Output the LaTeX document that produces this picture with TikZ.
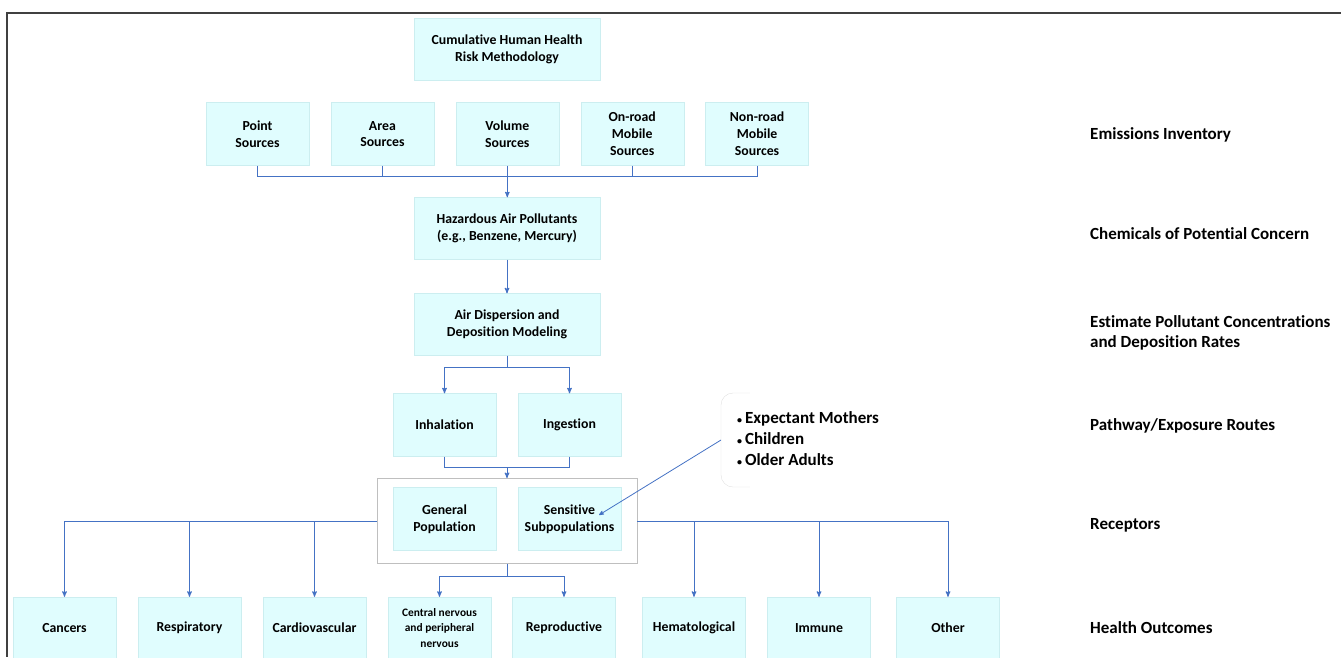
\documentclass[tikz,border=0pt]{standalone}
\usepackage{fontspec}
\setmainfont{Carlito}[Ligatures=NoCommon]
\usepackage{tikz}
\usetikzlibrary{arrows,positioning}
\definecolor{boxfill}{RGB}{224,253,254}
\definecolor{boxline}{RGB}{204,238,240}
\definecolor{linkblue}{RGB}{68,114,196}
\newcommand{\dotitem}{{\fontsize{10}{10}\selectfont\textbullet}\,}
\tikzset{
    %Define standard arrow tip
    >=stealth',
    %Define style for boxes
    stage/.style={
           rectangle,
           fill=boxfill,
           draw=boxline, thin,
           minimum width=103pt,
           minimum height=63pt,
           font=\bfseries\fontsize{13.8}{16.8}\selectfont,
           align=center,
           inner sep=0pt,
           },
    widestage/.style={
           stage,
           minimum width=186pt,
           minimum height=62pt,
           },
    outcome/.style={
           stage,
           minimum height=62pt,
           },
    groupbox/.style={
           rectangle,
           draw=black!25, thick,
           minimum width=260pt,
           minimum height=85pt,
           },
    steplabel/.style={
           anchor=west,
           align=left,
           inner sep=0pt,
           font=\bfseries\fontsize{17}{20}\selectfont,
           },
    sublist/.style={
           anchor=west,
           align=left,
           inner sep=0pt,
           font=\bfseries\fontsize{17}{21}\selectfont,
           },
    % Define arrow style
    pil/.style={
           ->,
           draw=linkblue,
           line width=1pt,
           },
    link/.style={
           draw=linkblue,
           line width=1pt,
           },
}
\begin{document}
\begin{tikzpicture}[x=1pt,y=-1pt,node distance=21.5pt]
\useasboundingbox (0,0) rectangle (1341,657);
\draw[black!75, line width=1.5pt] (1341,13) -- (7,13) -- (7,657);

 %nodes
\node[widestage](top) at (507,49){Cumulative Human Health\\Risk Methodology};
\node[stage](pt) at (257.5,134){Point\\Sources};
\node[stage, right=of pt](area){Area\\Sources};
\node[stage, right=of area](vol){Volume\\Sources};
\node[stage, right=of vol](onrd){On-road\\Mobile\\Sources};
\node[stage, right=of onrd](nonrd){Non-road\\Mobile\\Sources};
\node[widestage](haz) at (507,228.5){Hazardous Air Pollutants\\(e.g., Benzene, Mercury)};
\node[widestage](disp) at (507,324.5){Air Dispersion and\\Deposition Modeling};
\node[stage](inh) at (444.5,425){Inhalation};
\node[stage](ing) at (569.5,425){Ingestion};
\node[groupbox](rec) at (507,521){};
\node[stage](gen) at (444.5,519){General\\Population};
\node[stage](sens) at (569.5,519){Sensitive\\Subpopulations};
\node[outcome](can) at (64.5,628){Cancers};
\node[outcome](res) at (189.5,628){Respiratory};
\node[outcome](card) at (314.5,628){Cardiovascular};
\node[outcome, font=\bfseries\fontsize{11.4}{15.5}\selectfont](cns) at (439.5,628){Central nervous\\and peripheral\\nervous};
\node[outcome](rep) at (564,628){Reproductive};
\node[outcome](hem) at (694,628){Hematological};
\node[outcome](imm) at (819,628){Immune};
\node[outcome](oth) at (948,628){Other};

 %subpopulations
\node[sublist](grp) at (737,439){\dotitem Expectant Mothers\\\dotitem Children\\\dotitem Older Adults};
\draw[black!12, rounded corners=12pt] (750,393) -- (721,393) -- (721,487) -- (750,487);
\coordinate (brk) at (721,440);
\coordinate (tip) at (599,515);

 %labels
\node[steplabel](l1) at (1090,135){Emissions Inventory};
\node[steplabel](l2) at (1090,234){Chemicals of Potential Concern};
\node[steplabel](l3) at (1090,333){Estimate Pollutant Concentrations\\and Deposition Rates};
\node[steplabel](l4) at (1090,426){Pathway/Exposure Routes};
\node[steplabel](l5) at (1090,525){Receptors};
\node[steplabel](l6) at (1090,628){Health Outcomes};

 %connectors
\coordinate (bus) at (vol.south |- 0,176);
\draw[link] (pt.south) |- (bus);
\draw[link] (area.south) |- (bus);
\draw[link] (onrd.south) |- (bus);
\draw[link] (nonrd.south) |- (bus);
\draw[pil] (vol.south) -- (vol.south |- haz.north);
\draw[pil] (haz.south) -- (disp.north);
\draw[pil] (disp.south) -- ++(0,12) -| (inh.north);
\draw[pil] (disp.south) -- ++(0,12) -| (ing.north);
\coordinate (join) at (507,467);
\draw[link] (inh.south) |- (join);
\draw[link] (ing.south) |- (join);
\draw[pil] (join) -- (rec.north);
\draw[pil] (rec.west) -| (can.north);
\draw[pil] (rec.west) -| (res.north);
\draw[pil] (rec.west) -| (card.north);
\draw[pil] (rec.east) -| (hem.north);
\draw[pil] (rec.east) -| (imm.north);
\draw[pil] (rec.east) -| (oth.north);
\draw[pil] (rec.south) -- ++(0,13) -| (cns.north);
\draw[pil] (rec.south) -- ++(0,13) -| (rep.north);
\draw[pil, line width=0.8pt] (brk) -- (tip);

\end{tikzpicture}
\end{document}
